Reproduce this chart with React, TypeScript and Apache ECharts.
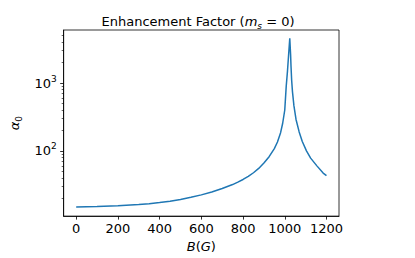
import React, { useEffect, useRef } from "react";
import * as echarts from "echarts";

const fieldB = [
  0, 100, 200, 300, 350, 400, 450, 500, 550, 600, 650, 700, 750, 775, 800, 825, 850, 875, 900, 925, 950, 965, 980, 990, 1000, 1007, 1013, 1018, 1024,
  1028, 1030, 1033, 1037, 1044, 1054, 1069, 1084, 1104, 1124, 1154, 1184, 1200,
];
const alpha = [
  14.8, 15.1, 15.5, 16.1, 16.6, 17.3, 18.1, 19.2, 20.6, 22.4, 24.7, 27.8, 31.8, 34.5, 37.8, 42, 47.5, 55, 66, 82, 108, 135, 185, 255, 400, 900, 1500, 2500, 4550,
  2600, 1750, 1100, 740, 460, 290, 190, 137, 100, 78, 60, 47, 43,
];

const xTicks = [0, 200, 400, 600, 800, 1000, 1200];
const yMajorTicks = [100, 1000];
const yMinorTicks = [20, 30, 40, 50, 60, 70, 80, 90, 200, 300, 400, 500, 600, 700, 800, 900, 2000, 3000, 4000, 5000];

const FONT = "DejaVu Sans";

export default function App() {
  const ref = useRef<HTMLDivElement>(null);
  useEffect(() => {
    if (!ref.current) return;
    const chart = echarts.init(ref.current, null, { renderer: "svg" });
    const yMin = 10.9;
    const yMax = 6050;
    chart.setOption({
      animation: false,
      backgroundColor: "#fff",
      textStyle: { fontFamily: FONT },
      title: {
        text: "{n|Enhancement Factor (}{i|m}{s|s}{n| = 0)}",
        left: 193,
        top: 7,
        textAlign: "center",
        textStyle: {
          fontFamily: FONT,
          fontSize: 13,
          fontWeight: "normal",
          color: "#000",
          rich: {
            n: { fontFamily: FONT, fontSize: 13, color: "#000", lineHeight: 18 },
            i: { fontFamily: FONT, fontSize: 13, color: "#000", fontStyle: "italic", lineHeight: 18 },
            s: { fontFamily: FONT, fontSize: 9, color: "#000", fontStyle: "italic", lineHeight: 9, verticalAlign: "bottom" },
          },
        },
      },
      grid: {
        left: 46.7,
        right: 76,
        top: 30,
        bottom: 34,
        show: true,
        borderColor: "#000",
        borderWidth: 0.8,
        backgroundColor: "transparent",
      },
      xAxis: {
        type: "value",
        min: -60,
        max: 1260,
        name: "{i|B}{n|(}{i|G}{n|)}",
        nameLocation: "middle",
        nameGap: 19,
        nameTextStyle: {
          verticalAlign: "top",
          rich: {
            n: { fontFamily: FONT, fontSize: 13, color: "#000" },
            i: { fontFamily: FONT, fontSize: 13, color: "#000", fontStyle: "italic" },
          },
        },
        axisLine: { show: true, onZero: false, lineStyle: { color: "#000", width: 0.8 } },
        axisTick: { show: true, inside: false, length: 3.5, customValues: xTicks, lineStyle: { color: "#000", width: 0.8 } },
        axisLabel: {
          customValues: xTicks,
          margin: 6,
          fontFamily: FONT,
          fontSize: 13,
          color: "#000",
          formatter: (v: number) => String(v),
        },
        splitLine: { show: false },
      },
      yAxis: [
        {
          type: "log",
          logBase: 10,
          min: yMin,
          max: yMax,
          name: "{a|α}{s|0}",
          nameLocation: "middle",
          nameRotate: 90,
          nameGap: 37,
          nameTextStyle: {
            rich: {
              a: { fontFamily: FONT, fontSize: 13, color: "#000", fontStyle: "italic", lineHeight: 18 },
              s: { fontFamily: FONT, fontSize: 9, color: "#000", lineHeight: 9, verticalAlign: "bottom" },
            },
          },
          axisLine: { show: true, onZero: false, lineStyle: { color: "#000", width: 0.8 } },
          axisTick: { show: true, inside: false, length: 3.5, customValues: yMajorTicks, lineStyle: { color: "#000", width: 0.8 } },
          axisLabel: {
            customValues: yMajorTicks,
            margin: 7,
            formatter: (v: number) => "{n|10}{p|" + Math.round(Math.log10(v)) + "}",
            rich: {
              n: { fontFamily: FONT, fontSize: 13, color: "#000", lineHeight: 18 },
              p: { fontFamily: FONT, fontSize: 9, color: "#000", lineHeight: 9, verticalAlign: "top" },
            },
          },
          splitLine: { show: false },
          minorTick: { show: false },
        },
        {
          type: "log",
          logBase: 10,
          min: yMin,
          max: yMax,
          position: "left",
          axisLine: { show: false, onZero: false },
          axisTick: { show: true, inside: false, length: 2, customValues: yMinorTicks, lineStyle: { color: "#000", width: 0.6 } },
          axisLabel: { show: false },
          splitLine: { show: false },
        },
      ],
      series: [
        {
          type: "line",
          yAxisIndex: 0,
          data: fieldB.map((b, i) => [b, alpha[i]]),
          showSymbol: false,
          symbol: "none",
          lineStyle: { color: "#1f77b4", width: 1.5 },
          clip: true,
        },
      ],
    });
    return () => chart.dispose();
  }, []);
  return (
    <div
      ref={ref}
      style={{ position: "fixed", left: 0, top: 0, width: 415, height: 258, background: "#fff" }}
    />
  );
}
